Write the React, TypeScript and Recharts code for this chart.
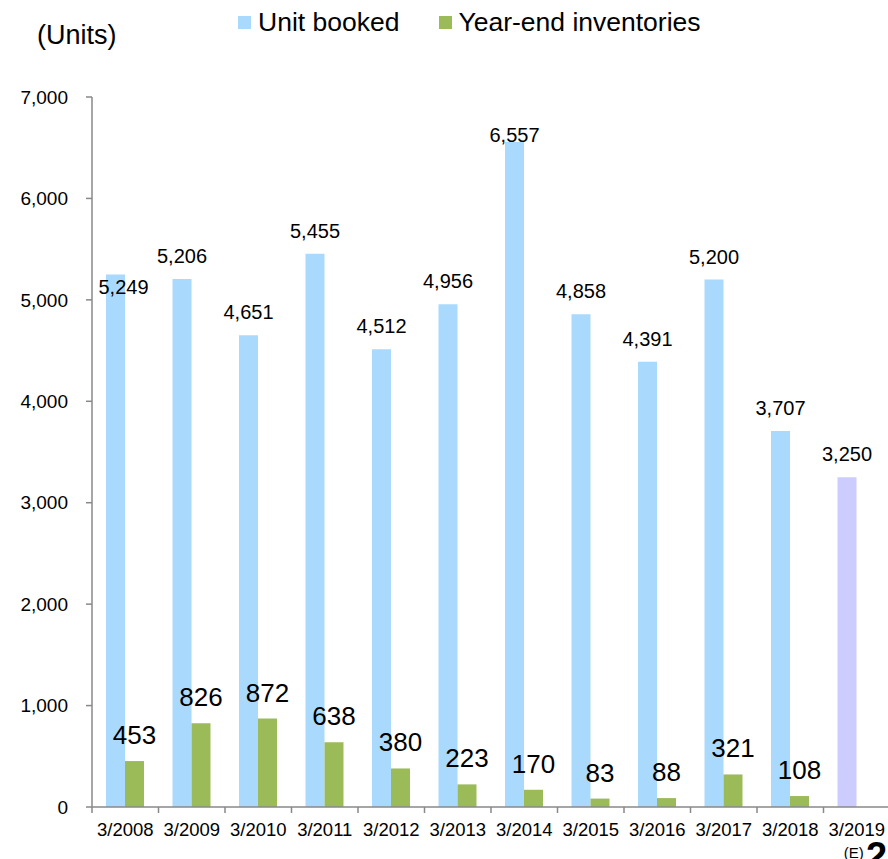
import React from "react";
import { Bar, BarChart, Cell, LabelList, XAxis, YAxis } from "recharts";

const categories = [
    "3/2008", "3/2009", "3/2010", "3/2011", "3/2012", "3/2013",
    "3/2014", "3/2015", "3/2016", "3/2017", "3/2018", "3/2019",
];
const unitBooked = [5249, 5206, 4651, 5455, 4512, 4956, 6557, 4858, 4391, 5200, 3707, 3250];
const inventories: (number | null)[] = [453, 826, 872, 638, 380, 223, 170, 83, 88, 321, 108, null];
const yTicks = [0, 1000, 2000, 3000, 4000, 5000, 6000, 7000];
const estimateIndex = 11;

const BLUE = "#A9DAFE";
const GREEN = "#9BBB59";
const PURPLE = "#CCCCFF";
const AXIS = "#888888";
const FONT = "'Liberation Sans', Arial, sans-serif";

const W = 900;
const H = 859;
const M = { top: 97, right: 10, bottom: 0, left: 0 };
const Y_W = 92;
const X_H = 52;
const AXIS_Y = H - X_H;
const BAND = (W - M.right - Y_W) / categories.length;

const data = categories.map((c, i) => ({
    name: c,
    booked: unitBooked[i],
    inv: inventories[i],
}));

const fmt = (v: number) => v.toLocaleString("en-US");

const XTick = (props: any) => {
    const { x, payload, index } = props;
    return (
        <g>
            <line x1={x - BAND / 2} x2={x - BAND / 2} y1={AXIS_Y} y2={AXIS_Y + 6} stroke={AXIS} strokeWidth={1.5} />
            <text x={x} y={AXIS_Y + 29} textAnchor="middle" fontSize={18.5} fontFamily={FONT} fill="#000">
                {payload.value}
            </text>
            {index === estimateIndex && (
                <text x={x - 3} y={AXIS_Y + 51} textAnchor="middle" fontSize={15} fontFamily={FONT} fill="#000">
                    (E)
                </text>
            )}
        </g>
    );
};

const bookedLabel = (props: any) => {
    const { x, y, width, value, index } = props;
    let dx = 0;
    let base = y - 16;
    if (index === 0) {
        dx = 8;
        base = y + 19;
    }
    if (index === 6) base = y;
    return (
        <text x={x + width / 2 + dx} y={base} textAnchor="middle" fontSize={20} fontFamily={FONT} fill="#000">
            {fmt(value)}
        </text>
    );
};

const invLabel = (props: any) => {
    const { x, y, width, value } = props;
    if (value == null) return null;
    return (
        <text x={x + width / 2} y={y - 17} textAnchor="middle" fontSize={26} fontFamily={FONT} fill="#000">
            {value}
        </text>
    );
};

export default function App() {
    return (
        <div style={{ position: "absolute", left: 0, top: 0, width: 888, height: 859, overflow: "hidden", background: "#fff", fontFamily: FONT }}>
            <div style={{ position: "absolute", left: 37, top: 20, fontSize: 27, lineHeight: "30px" }}>(Units)</div>
            <div style={{ position: "absolute", left: 238, top: 7, fontSize: 26.5, lineHeight: "30px", display: "flex", alignItems: "center" }}>
                <span style={{ width: 13, height: 13, background: BLUE, display: "inline-block", marginRight: 7 }} />
                <span>Unit booked</span>
                <span style={{ width: 13, height: 13, background: GREEN, display: "inline-block", marginLeft: 40, marginRight: 6 }} />
                <span>Year-end inventories</span>
            </div>
            <BarChart width={W} height={H} data={data} margin={M} barGap={0} barSize={19}>
                <YAxis
                    width={Y_W}
                    domain={[0, 7000]}
                    ticks={yTicks}
                    tickFormatter={fmt}
                    axisLine={{ stroke: AXIS, strokeWidth: 1.5 }}
                    tickLine={{ stroke: AXIS, strokeWidth: 1.5 }}
                    tickSize={6}
                    tickMargin={18}
                    tick={{ fontSize: 19, fontFamily: FONT, fill: "#000" }}
                    allowDataOverflow
                />
                <XAxis
                    dataKey="name"
                    height={X_H}
                    axisLine={{ stroke: AXIS, strokeWidth: 1.5 }}
                    tickLine={false}
                    tick={<XTick />}
                    interval={0}
                />
                <Bar dataKey="booked" fill={BLUE} isAnimationActive={false}>
                    {data.map((d, i) => (
                        <Cell key={d.name} fill={i === estimateIndex ? PURPLE : BLUE} />
                    ))}
                    <LabelList dataKey="booked" content={bookedLabel} />
                </Bar>
                <Bar dataKey="inv" fill={GREEN} isAnimationActive={false}>
                    <LabelList dataKey="inv" content={invLabel} />
                </Bar>
            </BarChart>
            <div style={{ position: "absolute", left: 866, top: 836, fontSize: 38, fontWeight: "bold", lineHeight: "40px" }}>2</div>
        </div>
    );
}
